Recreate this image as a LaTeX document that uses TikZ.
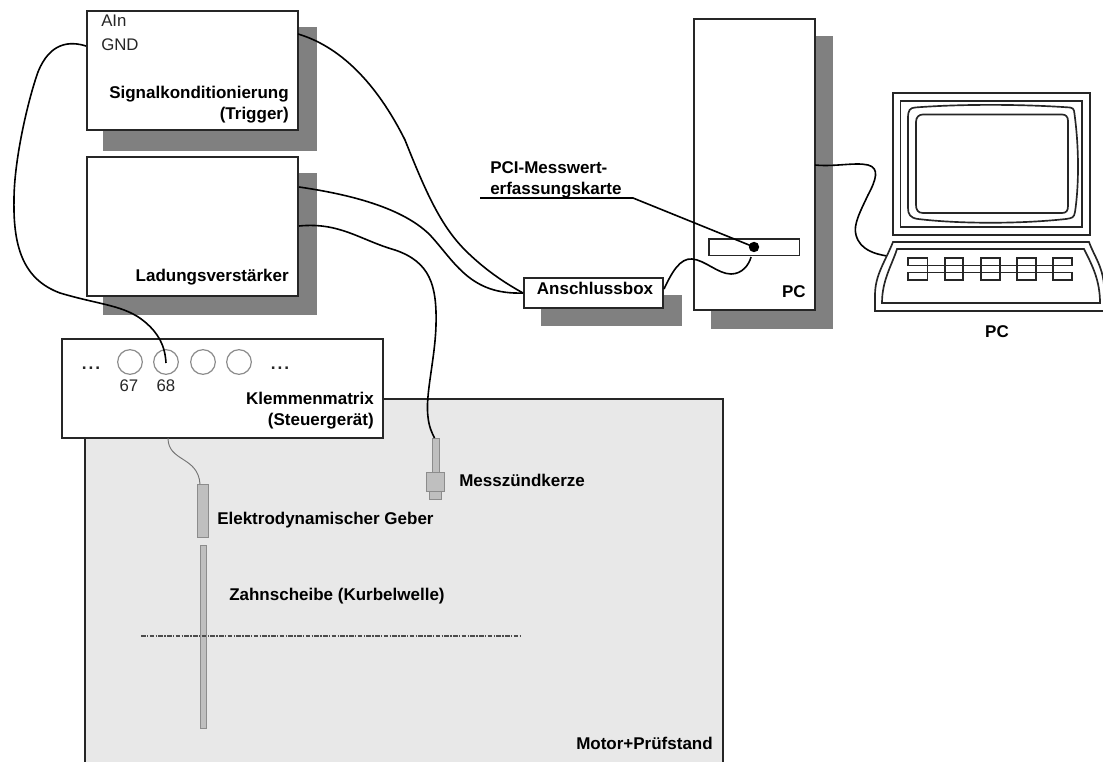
\documentclass[tikz,border=0pt]{standalone}
\usepackage{fontspec}
\setmainfont{Liberation Sans}
\begin{document}
\begin{tikzpicture}[x=0.75pt,y=-0.75pt,
  shadowbox/.style={fill=black!50,draw=none},
  whitebox/.style={draw=black!85,line width=1.5pt,fill=white},
  wire/.style={draw=black,line width=1.2pt},
  thinlink/.style={draw=black!55,line width=0.7pt},
  sensor/.style={draw=black!45,fill=black!25,line width=0.8pt},
  term/.style={draw=black!45,fill=white,line width=0.9pt,circle,minimum size=18.5pt,inner sep=0pt},
  blab/.style={font=\bfseries\fontsize{12.75}{15.8}\selectfont,text=black,inner sep=0pt,align=right},
  nlab/.style={font=\fontsize{12.6}{15}\selectfont,text=black!85,inner sep=0pt},
  dotlab/.style={font=\bfseries\fontsize{13}{15}\selectfont,text=black!85,inner sep=0pt},
  screen/.style={draw=black!85,line width=1.25pt,fill=white}]
\useasboundingbox (0,0) rectangle (1103,762);
% Motor
\path[draw=black!85,line width=1.2pt,fill=black!9] (85,770) -- (85,399) -- (723,399) -- (723,770);
% shadows
\fill[shadowbox] (103,27) rectangle (317,151);
\fill[shadowbox] (103,173) rectangle (317,315);
\fill[shadowbox] (541,295) rectangle (682,326);
\fill[shadowbox] (711,36) rectangle (833,329);
% boxes
\node[whitebox,minimum width=158.5pt,minimum height=89.5pt,inner sep=0pt,anchor=north west] (sig) at (86,10) {};
\node[whitebox,minimum width=158.5pt,minimum height=104.5pt,inner sep=0pt,anchor=north west] (lad) at (86,156) {};
\node[whitebox,minimum width=90.5pt,minimum height=218.5pt,inner sep=0pt,anchor=north west] (pc) at (693,18) {};
\node[whitebox,minimum width=104pt,minimum height=22.5pt,inner sep=0pt,anchor=north west] (box) at (523,277) {};
\node[whitebox,minimum width=68pt,minimum height=12.5pt,inner sep=0pt,anchor=north west,line width=1.2pt] (card) at (708,238) {};
\node[whitebox,minimum width=240.5pt,minimum height=74.5pt,inner sep=0pt,anchor=north west] (mat) at (61,338) {};
% terminals
\node[term] (t67) at (130,362) {};
\node[term] (t68) at (166,362) {};
\node[term] (t69) at (203,362) {};
\node[term] (t70) at (239,362) {};
% sensors
\node[sensor,minimum width=8.6pt,minimum height=39.5pt,inner sep=0pt,anchor=north west] (geber) at (196.5,484) {};
\node[sensor,minimum width=5pt,minimum height=137pt,inner sep=0pt,anchor=north west] (zahn) at (199.5,545) {};
\node[sensor,minimum width=5pt,minimum height=25.5pt,inner sep=0pt,anchor=north west] (kerzeA) at (432,438) {};
\node[sensor,minimum width=9pt,minimum height=7pt,inner sep=0pt,anchor=north west] (kerzeC) at (429,490) {};
\node[sensor,minimum width=13.5pt,minimum height=14pt,inner sep=0pt,anchor=north west] (kerzeB) at (426,472) {};
% axis
\draw[black!70,line width=0.8pt,dash pattern=on 3.4pt off 1.1pt on 0.9pt off 1.1pt] (141,636) -- (520,636);
% free ends
\coordinate (gnd) at (86,46);
\coordinate (sigR) at (298,34);
\coordinate (ladA) at (299,187);
\coordinate (ladB) at (299,226);
\coordinate (boxL) at (523,293);
\coordinate (boxR) at (664,289);
\coordinate (pin) at (166,363);
\coordinate (kTop) at (434.5,438);
\coordinate (cardB) at (751,257);
\coordinate (pcR) at (815,165);
\coordinate (kbd) at (887,256);
\coordinate (gA) at (168,438);
\coordinate (gB) at (200,484);
\coordinate (lblA) at (480,198);
\coordinate (lblB) at (633,198);
\coordinate (dot) at (754,247);
% wires
\draw[wire] (gnd) .. controls (70,41) and (50,42) .. (38,72) .. controls (28,100) and (14,160) .. (14,200) .. controls (13,250) and (25,280) .. (60,293) .. controls (100,305) and (125,305) .. (145,322) .. controls (158,333) and (165,345) .. (pin);
\draw[wire] (sigR) .. controls (345,48) and (380,90) .. (405,140) .. controls (425,190) and (440,225) .. (465,250) .. controls (485,270) and (505,283) .. (boxL);
\draw[wire] (ladA) .. controls (340,193) and (400,205) .. (430,235) .. controls (455,262) and (470,295) .. (boxL);
\draw[wire] (ladB) .. controls (340,222) and (360,240) .. (395,250) .. controls (430,262) and (437,285) .. (436,325) .. controls (435,360) and (425,395) .. (428,417) .. controls (429,427) and (432,433) .. (kTop);
\draw[wire] (boxR) .. controls (672,272) and (680,258) .. (692,259) .. controls (705,260) and (718,274) .. (731,274) .. controls (742,274) and (749,265) .. (cardB);
\draw[wire] (lblA) -- (lblB) -- (dot);
\fill[black] (dot) circle (3.9pt);
\draw[wire] (pcR) .. controls (835,167) and (855,162) .. (868,165) .. controls (880,168) and (876,180) .. (868,195) .. controls (860,212) and (853,225) .. (856,235) .. controls (860,250) and (875,254) .. (kbd);
\draw[thinlink] (gA) .. controls (168,462) and (198,456) .. (gB);
% computer
\draw[screen] (893,93) rectangle (1090,235);
\draw[screen] (900.5,101) rectangle (1082,227);
\draw[screen] (915,107.5) .. controls (960,104) and (1020,104) .. (1070,107.5) .. controls (1075,108) and (1074,112) .. (1075,118) .. controls (1079,150) and (1079,185) .. (1075,212) .. controls (1074,218) and (1072,218) .. (1066,219) .. controls (1020,224) and (960,224) .. (918,219) .. controls (910,218) and (908,214) .. (908,208) -- (908,118) .. controls (908,110) and (910,108) .. (915,107.5) -- cycle;
\draw[screen] (923,114.5) -- (1062,114.5) .. controls (1066,114.5) and (1068,117) .. (1068,121) -- (1068,206) .. controls (1068,211) and (1066,213) .. (1062,213) -- (923,213) .. controls (918,213) and (916,210) .. (916,205) -- (916,122) .. controls (916,117) and (919,114.5) .. (923,114.5) -- cycle;
\draw[screen] (893,242) -- (1089,242) .. controls (1095,258) and (1102,265) .. (1104,285) -- (1104,311) -- (875,311) -- (875,295) .. controls (875,275) and (885,262) .. (893,242) -- cycle;
\draw[screen] (897,249) -- (1084,249) .. controls (1092,265) and (1100,280) .. (1100,303) -- (882,303) .. controls (882,280) and (892,265) .. (897,249) -- cycle;
\draw[screen] (908,258) rectangle (927.5,265.5);
\draw[screen] (908,272.5) rectangle (927.5,280);
\foreach \a/\b in {945/963,981/1000,1017/1036}{
  \draw[screen] (\a,258) rectangle (\b,280);
}
\draw[screen] (1053,258) rectangle (1072,265.5);
\draw[screen] (1053,272.5) rectangle (1072,280);
\draw[black!85,line width=1.25pt] (908,265.5) -- (1072,265.5) (908,272.5) -- (1072,272.5) (927.5,265.5) -- (927.5,272.5) (1053,265.5) -- (1053,272.5);
% labels
\node[nlab,anchor=west] (ain) at (101,21) {AIn};
\node[nlab,anchor=west] (gndl) at (101,45) {GND};
\node[blab,anchor=north east] (sigl) at (289,86) {Signalkonditionierung\\(Trigger)};
\node[blab,anchor=east] (ladl) at (289,277) {Ladungsverstärker};
\node[blab,anchor=center] (boxl) at (595,288.5) {Anschlussbox};
\node[blab,anchor=east] (pcl) at (806,292) {PC};
\node[blab,anchor=center] (pcl2) at (997,332) {PC};
\node[blab,anchor=north west,align=left] (pci) at (490,161) {PCI-Messwert-\\erfassungskarte};
\node[nlab,anchor=center] (n67) at (129,386) {67};
\node[nlab,anchor=center] (n68) at (166,386) {68};
\node[dotlab,anchor=base] (dl) at (91,370) {.\hspace{1.5pt}.\hspace{1.5pt}.};
\node[dotlab,anchor=base] (dr) at (280,370) {.\hspace{1.5pt}.\hspace{1.5pt}.};
\node[blab,anchor=north east] (matl) at (374,392) {Klemmenmatrix\\(Steuergerät)};
\node[blab,anchor=west] (mz) at (459,480) {Messzündkerze};
\node[blab,anchor=west] (eg) at (217,520) {Elektrodynamischer Geber};
\node[blab,anchor=west] (zs) at (229,596) {Zahnscheibe (Kurbelwelle)};
\node[blab,anchor=east] (mp) at (713,743) {Motor+Prüfstand};
\end{tikzpicture}
\end{document}
